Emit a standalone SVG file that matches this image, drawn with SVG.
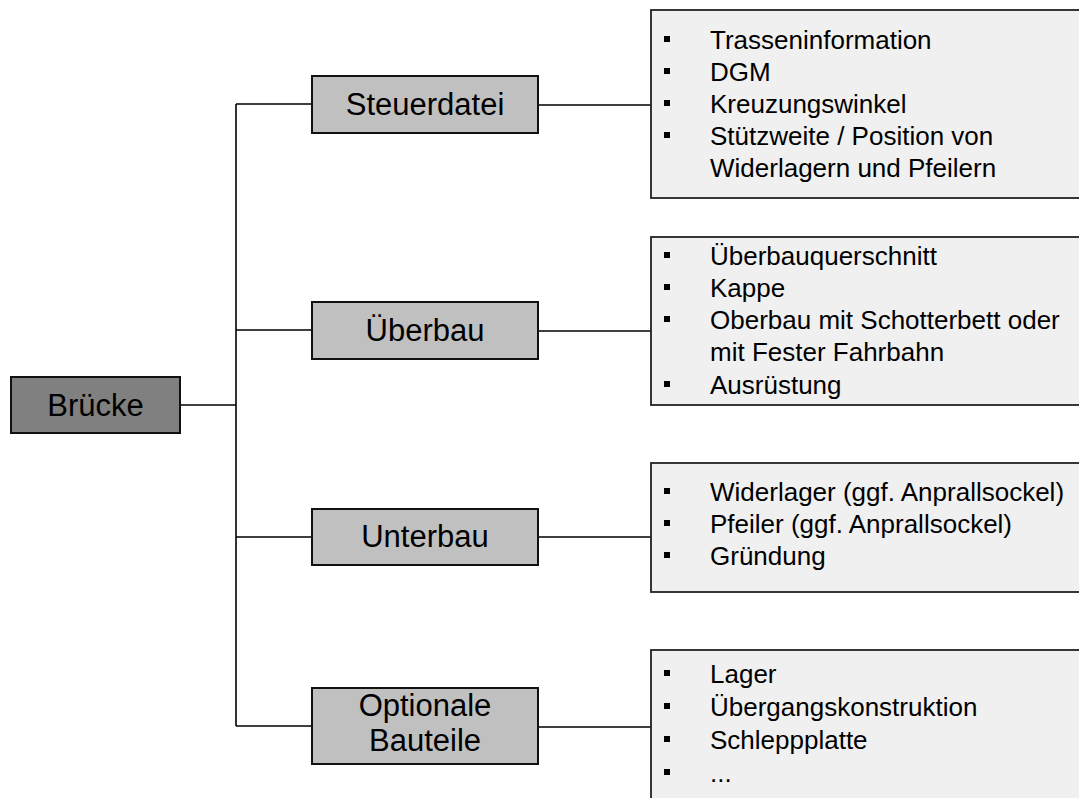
<svg xmlns="http://www.w3.org/2000/svg" width="1079" height="798" viewBox="0 0 1079 798">
<style>
.node{stroke:#111;stroke-width:2}
.main{fill:#808080}
.sub{fill:#c0c0c0}
.info{fill:#f0f0f0;stroke:#222;stroke-width:1.8}
.lbl{font-family:"Liberation Sans",Arial,sans-serif;font-size:31px;fill:#000;text-anchor:middle}
.item{font-family:"Liberation Sans",Arial,sans-serif;font-size:26px;fill:#000}
.bul{fill:#000}
.conn{stroke:#000;stroke-width:1.6;fill:none}
</style>
<rect width="1079" height="798" fill="#fff"/>
<g id="connectors">
<path class="conn" d="M180 405H236M236 104V726M236 104H312M236 330H312M236 537H312M236 726H312"/>
<path class="conn" d="M538 105H651M538 331H651M538 537H651M538 727H651"/>
</g>
<g id="bruecke">
<rect class="node main" x="11" y="377" width="169" height="56"/>
<text class="lbl" x="95.5" y="416">Brücke</text>
</g>
<g id="steuerdatei">
<rect class="node sub" x="312" y="76" width="226" height="57"/>
<text class="lbl" x="425" y="115">Steuerdatei</text>
</g>
<g id="ueberbau">
<rect class="node sub" x="312" y="302" width="226" height="57"/>
<text class="lbl" x="425" y="341">Überbau</text>
</g>
<g id="unterbau">
<rect class="node sub" x="312" y="509" width="226" height="56"/>
<text class="lbl" x="425" y="547">Unterbau</text>
</g>
<g id="optionale">
<rect class="node sub" x="312" y="688" width="226" height="76"/>
<text class="lbl" x="425" y="716">Optionale</text>
<text class="lbl" x="425" y="751">Bauteile</text>
</g>
<g id="info-steuerdatei">
<rect class="info" x="651" y="10" width="440" height="188"/>
<rect class="bul" x="664" y="36" width="6" height="6"/>
<rect class="bul" x="664" y="68" width="6" height="6"/>
<rect class="bul" x="664" y="100" width="6" height="6"/>
<rect class="bul" x="664" y="132" width="6" height="6"/>
<text class="item" x="710" y="49">Trasseninformation</text>
<text class="item" x="710" y="81">DGM</text>
<text class="item" x="710" y="113">Kreuzungswinkel</text>
<text class="item" x="710" y="145">Stützweite / Position von</text>
<text class="item" x="710" y="177">Widerlagern und Pfeilern</text>
</g>
<g id="info-ueberbau">
<rect class="info" x="651" y="237" width="440" height="168"/>
<rect class="bul" x="664" y="252" width="6" height="6"/>
<rect class="bul" x="664" y="284" width="6" height="6"/>
<rect class="bul" x="664" y="316" width="6" height="6"/>
<rect class="bul" x="664" y="381" width="6" height="6"/>
<text class="item" x="710" y="265">Überbauquerschnitt</text>
<text class="item" x="710" y="297">Kappe</text>
<text class="item" x="710" y="329">Oberbau mit Schotterbett oder</text>
<text class="item" x="710" y="361">mit Fester Fahrbahn</text>
<text class="item" x="710" y="394">Ausrüstung</text>
</g>
<g id="info-unterbau">
<rect class="info" x="651" y="463" width="440" height="129"/>
<rect class="bul" x="664" y="488" width="6" height="6"/>
<rect class="bul" x="664" y="520" width="6" height="6"/>
<rect class="bul" x="664" y="552" width="6" height="6"/>
<text class="item" x="710" y="501">Widerlager (ggf. Anprallsockel)</text>
<text class="item" x="710" y="533">Pfeiler (ggf. Anprallsockel)</text>
<text class="item" x="710" y="565">Gründung</text>
</g>
<g id="info-optionale">
<rect class="info" x="651" y="650" width="440" height="160"/>
<rect class="bul" x="664" y="670" width="6" height="6"/>
<rect class="bul" x="664" y="703" width="6" height="6"/>
<rect class="bul" x="664" y="736" width="6" height="6"/>
<rect class="bul" x="664" y="769" width="6" height="6"/>
<text class="item" x="710" y="683">Lager</text>
<text class="item" x="710" y="716">Übergangskonstruktion</text>
<text class="item" x="710" y="749">Schleppplatte</text>
<text class="item" x="710" y="782">...</text>
</g>
</svg>
